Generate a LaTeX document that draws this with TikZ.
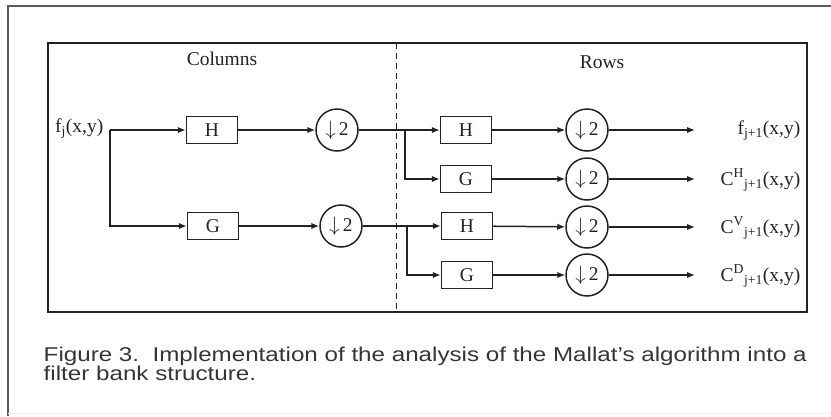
\documentclass[tikz,border=0pt]{standalone}
\usepackage{fontspec}
\usepackage{graphicx}
\setmainfont{Liberation Serif}
\newfontfamily\capfont{Liberation Sans}
\usetikzlibrary{arrows.meta}
\definecolor{ink}{HTML}{222222}
\definecolor{capink}{HTML}{353535}
\begin{document}
\begin{tikzpicture}[x=1pt,y=-1pt,
  font=\fontsize{19.5}{22}\selectfont,
  line width=1.5pt, draw=ink, text=ink,
  filt/.style={draw, minimum width=51pt, minimum height=27pt, inner sep=0pt},
  down/.style={draw, circle, minimum size=42pt, inner sep=0pt},
  arr/.style={-{Latex[length=8pt,width=6.5pt]}},
  lbl/.style={inner sep=0pt, anchor=east}]
\useasboundingbox (0,0) rectangle (831,416);
% outer frame
\draw[gray!70!black, line width=1.2pt] (8,416) -- (8,6) -- (831,6);
\draw[gray!12, line width=1pt] (8,413) -- (831,413);
% inner frame
\draw (48,43) rectangle (807,312);
\draw[dashed, dash pattern=on 6pt off 4pt, line width=1pt] (396,43) -- (396,312);
\node (cols) at (222,59) {Columns};
\node (rows) at (602,62) {Rows};
% input
\node[lbl] (fj) at (104,129) {f\textsubscript{j}(x,y)};
\coordinate (s) at (110,130);
% columns
\node[filt] (H1) at (212,130) {H};
\node[filt] (G1) at (213,226) {G};
\node[down] (D1) at (337,130) {{\fontsize{22}{22}\selectfont$\downarrow$}\,2};
\node[down] (D2) at (341,226) {{\fontsize{22}{22}\selectfont$\downarrow$}\,2};
\draw[arr] (s) -- (H1);
\draw[arr] (s) |- (G1);
\draw[arr] (H1) -- (D1);
\draw[arr] (G1) -- (D2);
% junctions
\coordinate (j1) at (405,130);
\coordinate (j2) at (407,226);
\draw (D1) -- (j1);
\draw (D2) -- (j2);
% rows
\node[filt] (H2) at (466,130) {H};
\node[filt] (G2) at (466,179) {G};
\node[filt] (H3) at (467,226) {H};
\node[filt] (G3) at (467,275) {G};
\draw[arr] (j1) -- (H2);
\draw[arr] (j1) |- (G2);
\draw[arr] (j2) -- (H3);
\draw[arr] (j2) |- (G3);
\node[down] (R1) at (587,130) {{\fontsize{22}{22}\selectfont$\downarrow$}\,2};
\node[down] (R2) at (587,179) {{\fontsize{22}{22}\selectfont$\downarrow$}\,2};
\node[down] (R3) at (587,227) {{\fontsize{22}{22}\selectfont$\downarrow$}\,2};
\node[down] (R4) at (587,275) {{\fontsize{22}{22}\selectfont$\downarrow$}\,2};
\draw[arr] (H2) -- (R1);
\draw[arr] (G2) -- (R2);
\draw[arr] (H3) -- (R3);
\draw[arr] (G3) -- (R4);
% outputs
\coordinate (o1) at (695,130);
\coordinate (o2) at (695,179);
\coordinate (o3) at (695,227);
\coordinate (o4) at (695,275);
\draw[arr] (R1) -- (o1);
\draw[arr] (R2) -- (o2);
\draw[arr] (R3) -- (o3);
\draw[arr] (R4) -- (o4);
\node[lbl] (L1) at (801,131) {f\textsubscript{j+1}(x,y)};
\node[lbl] (L2) at (801,180) {C\textsuperscript{H}\textsubscript{j+1}(x,y)};
\node[lbl] (L3) at (801,228) {C\textsuperscript{V}\textsubscript{j+1}(x,y)};
\node[lbl] (L4) at (801,276) {C\textsuperscript{D}\textsubscript{j+1}(x,y)};
% caption
\node[anchor=base west, inner sep=0pt, text=capink] (cap) at (43,361)
  {\capfont\fontsize{20}{17}\selectfont\resizebox{763pt}{\height}{\begin{tabular}[t]{@{}l@{}}Figure 3.\ \ Implementation of the analysis of the Mallat’s algorithm into a\\ filter bank structure.\end{tabular}}};
\end{tikzpicture}
\end{document}
